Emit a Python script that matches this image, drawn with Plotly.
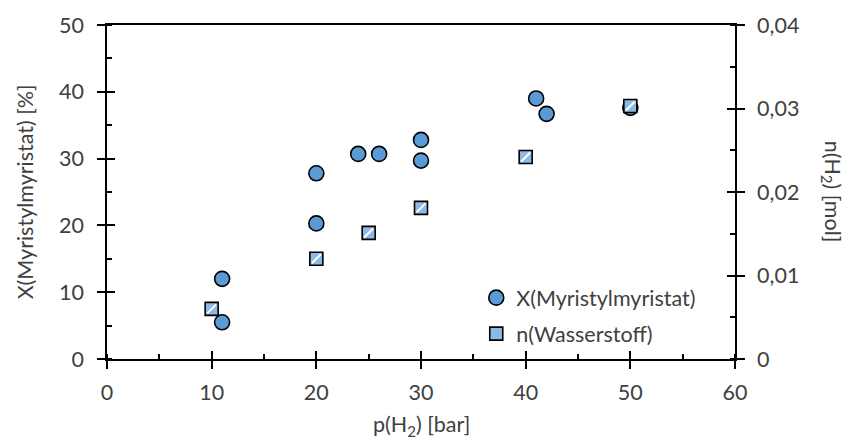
import plotly.graph_objects as go

# Conversion of myristyl myristate vs. hydrogen pressure
p_conv = [11, 11, 20, 20, 24, 26, 30, 30, 41, 42, 50]
x_conv = [12.0, 5.5, 20.3, 27.8, 30.7, 30.7, 32.8, 29.7, 39.0, 36.7, 37.6]

# Amount of hydrogen vs. pressure
p_h2 = [10, 20, 25, 30, 40, 50]
n_h2 = [0.0060, 0.0120, 0.0151, 0.0181, 0.0242, 0.0303]

y2_ticks = [0, 0.01, 0.02, 0.03, 0.04]
y2_text = ["0", "0,01", "0,02", "0,03", "0,04"]

FONT = "Lato"
FS = 21.5
TXT = "#404040"
BLUE = "#5B9BD5"

fig = go.Figure()
fig.add_trace(go.Scatter(
    x=p_conv, y=x_conv, mode="markers", name="X(Myristylmyristat)",
    legendgroup="a",
    marker=dict(symbol="circle", size=15, color=BLUE,
                line=dict(color="black", width=1.6)),
    xaxis="x", yaxis="y"))
fig.add_trace(go.Scatter(
    x=p_h2, y=n_h2, mode="markers", name="n(Wasserstoff)",
    legendgroup="b",
    marker=dict(symbol="square", size=13, color="#8DB9E4",
                line=dict(color="black", width=1.6)),
    xaxis="x", yaxis="y2"))
# white diagonal stripe hinting at the hatch fill
fig.add_trace(go.Scatter(
    x=p_h2, y=n_h2, mode="markers", showlegend=False, hoverinfo="skip",
    marker=dict(symbol="line-ne", size=9, color="white",
                line=dict(color="white", width=2)),
    xaxis="x", yaxis="y2"))
# empty traces so the inner-tick overlay axes are drawn
fig.add_trace(go.Scatter(x=[None], y=[None], showlegend=False,
                         xaxis="x2", yaxis="y3"))
fig.add_trace(go.Scatter(x=[None], y=[None], showlegend=False,
                         xaxis="x2", yaxis="y4"))

tick_font = dict(family=FONT, size=FS, color=TXT)

fig.update_layout(
    width=851, height=443,
    margin=dict(l=107, r=116, t=23, b=84),
    plot_bgcolor="white", paper_bgcolor="white",
    separators=",.",
    font=dict(family=FONT, size=FS, color=TXT),
    showlegend=True,
    legend=dict(x=0.588, y=0.245, xanchor="left", yanchor="top",
                bgcolor="rgba(0,0,0,0)", font=dict(family=FONT, size=FS, color=TXT),
                itemwidth=30, tracegroupgap=5),
    xaxis=dict(range=[0, 60], dtick=10, tick0=0, showgrid=False, zeroline=False,
               showline=True, linecolor="black", linewidth=1.6, mirror=True,
               ticks="outside", ticklen=8, tickwidth=1.6, tickcolor="black",
               minor=dict(ticks="inside", ticklen=5, dtick=5, tickwidth=1.6,
                          tickcolor="black", showgrid=False),
               tickfont=tick_font, ticklabelstandoff=5),
    xaxis2=dict(range=[0, 60], dtick=10, tick0=0, overlaying="x", anchor="y",
                showgrid=False, zeroline=False, showline=False,
                ticks="inside", ticklen=8, tickwidth=1.6, tickcolor="black",
                showticklabels=False),
    yaxis=dict(range=[0, 50], dtick=10, tick0=0, showgrid=False, zeroline=False,
               showline=True, linecolor="black", linewidth=1.6,
               ticks="outside", ticklen=8, tickwidth=1.6, tickcolor="black",
               minor=dict(ticks="inside", ticklen=5, dtick=5, tickwidth=1.6,
                          tickcolor="black", showgrid=False),
               tickfont=tick_font, ticklabelstandoff=9),
    yaxis2=dict(range=[0, 0.04], tickvals=y2_ticks, ticktext=y2_text,
                overlaying="y", side="right", anchor="x",
                showgrid=False, zeroline=False,
                showline=True, linecolor="black", linewidth=1.6,
                ticks="outside", ticklen=8, tickwidth=1.6, tickcolor="black",
                minor=dict(ticks="inside", ticklen=5, dtick=0.005, tickwidth=1.6,
                           tickcolor="black", showgrid=False),
                tickfont=tick_font, ticklabelstandoff=8),
    yaxis3=dict(range=[0, 50], dtick=10, tick0=0, overlaying="y", side="left",
                anchor="x2", showgrid=False, zeroline=False, showline=False,
                ticks="inside", ticklen=8, tickwidth=1.6, tickcolor="black",
                showticklabels=False),
    yaxis4=dict(range=[0, 0.04], dtick=0.01, tick0=0, overlaying="y", side="right",
                anchor="x2", showgrid=False, zeroline=False, showline=False,
                ticks="inside", ticklen=8, tickwidth=1.6, tickcolor="black",
                showticklabels=False),
    annotations=[
        dict(text="p(H<sub>2</sub>) [bar]", xref="paper", yref="paper",
             x=0.5, y=-0.2, yanchor="middle", showarrow=False,
             font=dict(family=FONT, size=FS, color=TXT)),
        dict(text="X(Myristylmyristat) [%]", xref="paper", yref="paper",
             x=-0.13, y=0.5, textangle=-90, xanchor="center", showarrow=False,
             font=dict(family=FONT, size=FS, color=TXT)),
        dict(text="n(H<sub>2</sub>) [mol]", xref="paper", yref="paper",
             x=1.155, y=0.5, textangle=90, xanchor="center", showarrow=False,
             font=dict(family=FONT, size=FS, color=TXT)),
    ],
)

fig.write_html("out.html")
